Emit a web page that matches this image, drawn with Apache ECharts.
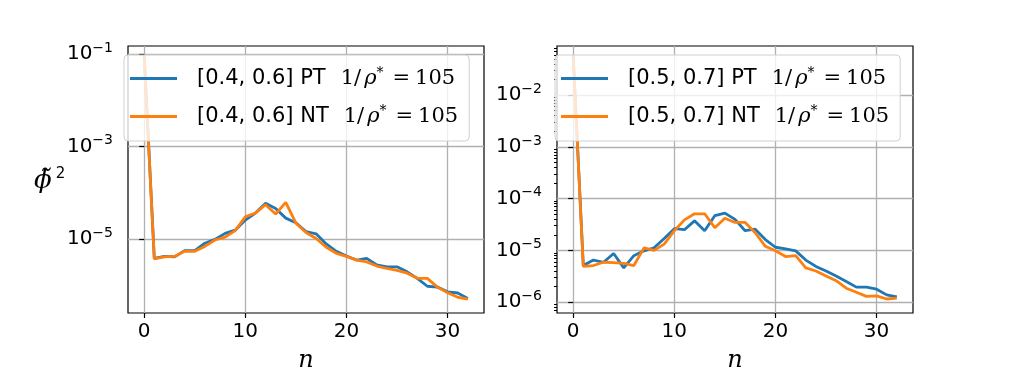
<!DOCTYPE html>
<html><head><meta charset="utf-8">
<script src="https://cdn.jsdelivr.net/npm/echarts@6/dist/echarts.min.js"></script>
<style>html,body{margin:0;padding:0;background:#fff}#c{width:1015px;height:373px}</style>
</head><body><div id="c"></div>
<script>
// mode index n
const nValues = [0,1,2,3,4,5,6,7,8,9,10,11,12,13,14,15,16,17,18,19,20,21,22,23,24,25,26,27,28,29,30,31,32];
// left panel: [0.4, 0.6]
const leftPT = [9.5e-2,3.8e-6,4.2e-6,4.1e-6,5.6e-6,5.6e-6,8.1e-6,9.8e-6,1.32e-5,1.55e-5,2.57e-5,3.63e-5,5.9e-5,4.57e-5,2.82e-5,2.24e-5,1.45e-5,1.29e-5,7.8e-6,5.4e-6,4.3e-6,3.5e-6,3.8e-6,2.75e-6,2.5e-6,2.5e-6,1.95e-6,1.41e-6,9.5e-7,9.1e-7,7.2e-7,6.8e-7,5.2e-7];
const leftNT = [8.9e-2,3.7e-6,4.1e-6,4.2e-6,5.4e-6,5.4e-6,6.9e-6,9.5e-6,1.1e-5,1.51e-5,3.0e-5,3.63e-5,5.5e-5,3.47e-5,6.2e-5,2.19e-5,1.38e-5,1.02e-5,6.6e-6,4.9e-6,4.2e-6,3.5e-6,3.2e-6,2.6e-6,2.3e-6,2.1e-6,1.82e-6,1.41e-6,1.41e-6,9.1e-7,6.9e-7,5.5e-7,5.0e-7];
// right panel: [0.5, 0.7]
const rightPT = [5.9e-2,5.1e-6,6.5e-6,5.9e-6,8.7e-6,4.6e-6,7.9e-6,9.8e-6,1.12e-5,1.7e-5,2.63e-5,2.51e-5,3.72e-5,2.4e-5,4.68e-5,5.25e-5,3.98e-5,2.4e-5,2.57e-5,1.62e-5,1.15e-5,1.07e-5,9.8e-6,6.5e-6,4.9e-6,4.0e-6,3.2e-6,2.5e-6,1.95e-6,1.95e-6,1.78e-6,1.38e-6,1.26e-6];
const rightNT = [5.6e-2,4.9e-6,5.1e-6,5.9e-6,5.8e-6,5.6e-6,5.1e-6,1.12e-5,1.0e-5,1.32e-5,2.4e-5,3.89e-5,5.1e-5,5.1e-5,2.75e-5,4.17e-5,3.47e-5,3.47e-5,2.19e-5,1.2e-5,9.8e-6,7.6e-6,7.9e-6,4.6e-6,4.0e-6,3.2e-6,2.6e-6,1.86e-6,1.55e-6,1.29e-6,1.32e-6,1.15e-6,1.2e-6];
// labels
const seriesNames = ['[0.4, 0.6] PT','[0.4, 0.6] NT','[0.5, 0.7] PT','[0.5, 0.7] NT'];
const legendSuffix = '105';
const xTicks = [0,10,20,30];
const leftYExponents = [-5,-3,-1];
const rightYExponents = [-6,-5,-4,-3,-2];

const BLUE = '#1f77b4', ORANGE = '#ff7f0e', GRID = '#b0b0b0';
function powLabel(v){ const e = Math.round(v); return '{b|10}{s|' + (e<0?'\u2212':'') + Math.abs(e) + '}'; }
const powRich = {
  b:{fontFamily:'DejaVu Sans', fontSize:20, color:'#000'},
  s:{fontFamily:'DejaVu Sans', fontSize:14, color:'#000', padding:[0,0,12,0]}
};
function toPts(arr){ return nValues.map((x,i)=>[x, Math.log10(arr[i])]); }

const rightMinor = [];
for (let e=-7; e<=-2; e++) for (let k=2; k<=9; k++) rightMinor.push(e + Math.log10(k));

function xAxis(gi){
  return {
    type:'value', gridIndex:gi, min:-1.6, max:33.6,
    axisLine:{show:false},
    axisTick:{show:true, customValues:xTicks, length:5, lineStyle:{color:'#000', width:1.2}},
    axisLabel:{customValues:xTicks, margin:9, color:'#000', fontFamily:'DejaVu Sans', fontSize:20},
    splitLine:{show:true, lineStyle:{color:GRID, width:1.3}},
    name:'n', nameLocation:'middle', nameGap:36,
    nameTextStyle:{fontFamily:'DejaVu Serif', fontStyle:'italic', fontSize:24, color:'#000'}
  };
}
function yAxis(gi, min, max, ticks){
  return {
    type:'value', gridIndex:gi, min:min, max:max, position:'left',
    axisLine:{show:false},
    axisTick:{show:true, customValues:ticks, length:5, lineStyle:{color:'#000', width:1.2}},
    axisLabel:{customValues:ticks, margin:15, formatter:powLabel, rich:powRich},
    splitLine:{show:true, lineStyle:{color:GRID, width:1.3}}
  };
}
const LH = 28;
const richLegend = {
  pad:{width:15, lineHeight:LH},
  g3:{width:3, lineHeight:LH},
  g9:{width:9, lineHeight:LH},
  g5:{width:5, lineHeight:LH},
  s:{fontFamily:'DejaVu Sans', fontSize:21, color:'#000', lineHeight:LH},
  m:{fontFamily:'DejaVu Serif', fontSize:21, color:'#000', lineHeight:LH},
  i:{fontFamily:'DejaVu Serif', fontStyle:'italic', fontSize:21, color:'#000', lineHeight:LH},
  sup:{fontFamily:'DejaVu Serif', fontSize:14, color:'#000', lineHeight:LH, padding:[0,0,11,0]}
};
function legend(left, names){
  return {
    orient:'vertical', left:left, top:55, itemWidth:47, itemHeight:2.8, itemGap:13,
    icon:'rect', padding:[11,11,12,6],
    backgroundColor:'rgba(255,255,255,0.8)', borderColor:'#d0d0d0', borderWidth:1, borderRadius:4,
    data:names,
    formatter: nm => '{pad|}{s|' + nm + '}{pad|}{m|1/}{g3|}{i|\u03C1}{sup|*}{g9|}{m|=}{g5|}{m|' + legendSuffix + '}',
    textStyle:{rich:richLegend}
  };
}
function line(name, arr, color, xi){
  return {type:'line', name:name, data:toPts(arr), xAxisIndex:xi, yAxisIndex:xi===0?0:1,
    showSymbol:false, symbol:'none', lineStyle:{color:color, width:2.8}, itemStyle:{color:color}, z:3};
}

const chart = echarts.init(document.getElementById('c'), null, {renderer:'canvas'});
chart.setOption({
  animation:false,
  backgroundColor:'#fff',
  grid:[
    {left:128, right:531, top:46, bottom:60, containLabel:false, outerBoundsMode:'none', show:true, borderColor:'#000', borderWidth:1.2, backgroundColor:'transparent'},
    {left:557, right:102, top:46, bottom:60, containLabel:false, outerBoundsMode:'none', show:true, borderColor:'#000', borderWidth:1.2, backgroundColor:'transparent'}
  ],
  xAxis:[xAxis(0), xAxis(1)],
  yAxis:[
    yAxis(0, -6.6, -0.83, leftYExponents),
    yAxis(1, -6.21, -1.05, rightYExponents),
    {type:'value', gridIndex:1, min:-6.21, max:-1.05, position:'left',
     axisLine:{show:false}, axisLabel:{show:false}, splitLine:{show:false},
     axisTick:{show:true, customValues:rightMinor, length:3, lineStyle:{color:'#000', width:1}}}
  ],
  legend:[legend(124, [seriesNames[0], seriesNames[1]]), legend(555, [seriesNames[2], seriesNames[3]])],
  graphic:[{
    type:'text', left:34, top:167,
    style:{text:'{p|\u03D5\u0303}{s|2}', rich:{
      p:{fontFamily:'DejaVu Serif', fontStyle:'italic', fontSize:26, fill:'#000', lineHeight:34},
      s:{fontFamily:'DejaVu Sans', fontSize:15, fill:'#000', lineHeight:34, padding:[0,0,14,4]}
    }}
  }],
  series:[
    line(seriesNames[0], leftPT, BLUE, 0),
    line(seriesNames[1], leftNT, ORANGE, 0),
    line(seriesNames[2], rightPT, BLUE, 1),
    line(seriesNames[3], rightNT, ORANGE, 1)
  ]
});
</script></body></html>
